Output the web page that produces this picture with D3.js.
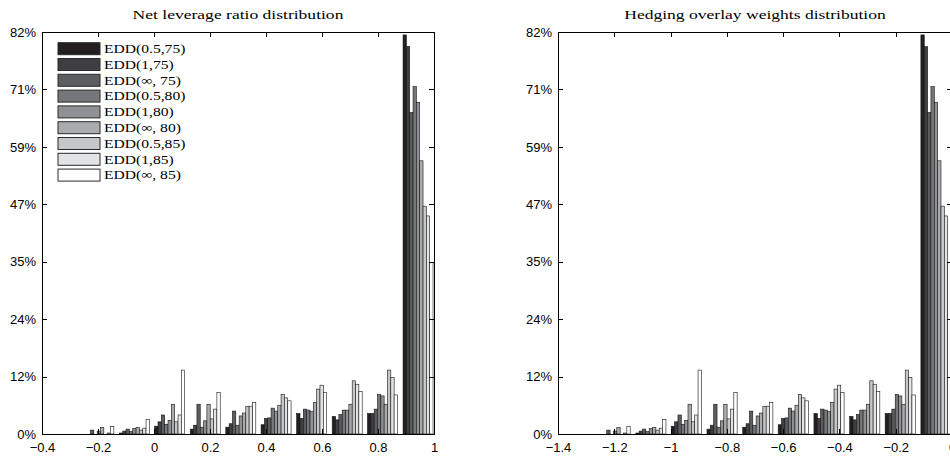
<!DOCTYPE html>
<html>
<head>
<meta charset="utf-8">
<style>
body { margin: 0; background: #fff; }
svg { display: block; }
.axis path, .axis line { stroke: #000; stroke-width: 1; shape-rendering: crispEdges; }
.axis text { font-family: "Liberation Sans", Arial, sans-serif; font-size: 13px; fill: #000; }
.title { font-family: "Liberation Serif", serif; font-size: 13.5px; fill: #000; }
.legend text { font-family: "Liberation Serif", serif; font-size: 13px; fill: #000; }
.bar { stroke: #151515; stroke-width: 0.6; }
</style>
</head>
<body>
<svg id="chart" width="950" height="458"></svg>
<script src="https://d3js.org/d3.v7.min.js"></script>
<script>

// legend entries and their gray levels
var seriesNames = ["EDD(0.5,75)", "EDD(1,75)", "EDD(\u221e, 75)", "EDD(0.5,80)", "EDD(1,80)",
                   "EDD(\u221e, 80)", "EDD(0.5,85)", "EDD(1,85)", "EDD(\u221e, 85)"];
var seriesColors = ["#231f20", "#3f3f41", "#5c5d5f", "#76777a", "#909194",
                    "#aaabad", "#c6c7c8", "#e2e3e4", "#ffffff"];

// histogram bin centres (same bins on both panels, hedging = shifted axis)
var leverageBins = [-0.197, -0.070, 0.056, 0.183, 0.310, 0.436, 0.563, 0.690, 0.816, 0.943];
var hedgingBins  = [-1.197, -1.070, -0.944, -0.817, -0.690, -0.564, -0.437, -0.310, -0.184, -0.057];
var binWidth = 0.1267;

// share of observations per bin, in %
var edd05_75  = [0, 0.2, 1.6, 1.0, 1.4, 1.9, 4.2, 3.6, 4.2, 81.8];
var edd1_75   = [0, 0.6, 2.5, 1.8, 2.1, 3.2, 3.2, 2.9, 4.2, 79.4];
var eddInf_75 = [0.8, 1.0, 3.9, 6.1, 4.7, 3.3, 5.1, 4.0, 5.1, 65.9];
var edd05_80  = [0, 0.5, 2.0, 1.4, 1.8, 5.3, 4.9, 4.9, 8.1, 71.2];
var edd1_80   = [0.6, 1.1, 2.8, 2.7, 3.7, 4.7, 4.6, 4.9, 7.8, 68.0];
var eddInf_80 = [1.3, 1.3, 6.1, 6.1, 4.3, 5.9, 6.5, 6.1, 6.1, 56.0];
var edd05_85  = [0, 0.8, 2.5, 3.1, 5.6, 8.1, 9.2, 10.9, 13.1, 46.7];
var edd1_85   = [0.2, 1.2, 3.9, 5.1, 5.7, 7.4, 10.0, 10.2, 11.6, 44.7];
var eddInf_85 = [1.5, 3.0, 13.1, 8.5, 6.5, 6.8, 8.5, 8.7, 8.0, 35.1];

var seriesValues = [edd05_75, edd1_75, eddInf_75, edd05_80, edd1_80,
                    eddInf_80, edd05_85, edd1_85, eddInf_85];

// axes
var yMax = 82.4;
var yTickValues = [0, 11.77, 23.54, 35.31, 47.09, 58.86, 70.63, 82.4];
var yTickLabels = ["0%", "12%", "24%", "35%", "47%", "59%", "71%", "82%"];
var leverageTicks = [-0.4, -0.2, 0, 0.2, 0.4, 0.6, 0.8, 1];
var leverageTickLabels = ["\u22120.4", "\u22120.2", "0", "0.2", "0.4", "0.6", "0.8", "1"];
var hedgingTicks = [-1.4, -1.2, -1, -0.8, -0.6, -0.4, -0.2, 0];
var hedgingTickLabels = ["\u22121.4", "\u22121.2", "\u22121", "\u22120.8", "\u22120.6", "\u22120.4", "\u22120.2", "0"];

var svg = d3.select("#chart");
var plotTop = 32, plotBottom = 434;

function drawPanel(p) {
  var x = d3.scaleLinear().domain(p.domain).range([p.left, p.right]);
  var y = d3.scaleLinear().domain([0, yMax]).range([plotBottom, plotTop]);

  var g = svg.append("g");

  // grouped bars, 9 per bin
  var groupW = binWidth * 0.845,
      barW = groupW / seriesNames.length;

  var bars = [];
  p.bins.forEach(function(c, i) {
    seriesValues.forEach(function(vals, j) {
      bars.push({ x0: c - groupW / 2 + j * barW, v: vals[i], s: j });
    });
  });

  g.selectAll(".bar")
    .data(bars).enter()
    .append("rect")
    .attr("class", "bar")
    .attr("x", d => x(d.x0))
    .attr("width", d => x(d.x0 + barW) - x(d.x0))
    .attr("y", d => y(d.v))
    .attr("height", d => y(0) - y(d.v))
    .attr("fill", d => seriesColors[d.s]);

  // box axes with inward ticks
  g.append("g")
    .attr("class", "axis")
    .attr("transform", "translate(0," + plotBottom + ")")
    .call(d3.axisBottom(x).tickValues(p.ticks)
      .tickFormat((d, i) => p.tickLabels[i])
      .tickSizeInner(-5).tickSizeOuter(0).tickPadding(9));

  g.append("g")
    .attr("class", "axis")
    .attr("transform", "translate(0," + plotTop + ")")
    .call(d3.axisTop(x).tickValues(p.ticks).tickFormat("")
      .tickSizeInner(-5).tickSizeOuter(0));

  g.append("g")
    .attr("class", "axis")
    .attr("transform", "translate(" + p.left + ",0)")
    .call(d3.axisLeft(y).tickValues(yTickValues)
      .tickFormat((d, i) => yTickLabels[i])
      .tickSizeInner(-5).tickSizeOuter(0).tickPadding(6));

  g.append("g")
    .attr("class", "axis")
    .attr("transform", "translate(" + p.right + ",0)")
    .call(d3.axisRight(y).tickValues(yTickValues).tickFormat("")
      .tickSizeInner(-5).tickSizeOuter(0));

  g.append("text")
    .attr("class", "title")
    .attr("text-anchor", "middle")
    .attr("transform", "translate(" + ((p.left + p.right) / 2) + ",18.5) scale(1.3,1)")
    .text(p.title);

  if (p.legend) {
    var lg = g.append("g").attr("class", "legend");
    var rows = lg.selectAll("g")
      .data(seriesNames).enter()
      .append("g")
      .attr("transform", (d, i) => "translate(58," + (42.7 + i * 15.8) + ")");

    rows.append("rect")
      .attr("width", 42)
      .attr("height", 12)
      .attr("fill", (d, i) => seriesColors[i])
      .attr("stroke", "#2a2a2a")
      .attr("stroke-width", 1);

    rows.append("text")
      .attr("transform", "translate(46,10.3) scale(1.2,1)")
      .text(d => d);
  }
}

drawPanel({
  left: 42, right: 434,
  domain: [-0.4, 1],
  bins: leverageBins,
  ticks: leverageTicks,
  tickLabels: leverageTickLabels,
  title: "Net leverage ratio distribution",
  legend: true
});

drawPanel({
  left: 558, right: 952,
  domain: [-1.4, 0],
  bins: hedgingBins,
  ticks: hedgingTicks,
  tickLabels: hedgingTickLabels,
  title: "Hedging overlay weights distribution",
  legend: false
});

</script>
</body>
</html>
